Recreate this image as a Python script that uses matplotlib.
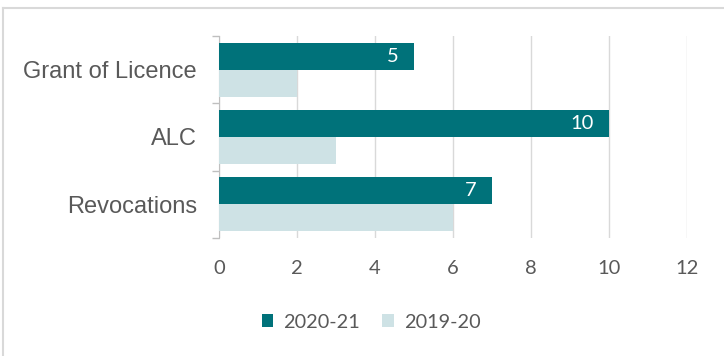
import numpy as np
import matplotlib.pyplot as plt

#Data
categories = ['Grant of Licence', 'ALC', 'Revocations']
vals_2021 = [5, 10, 7]
vals_1920 = [2, 3, 6]
series_names = ['2020-21', '2019-20']
xticks = [0, 2, 4, 6, 8, 10, 12]

dark = '#00727A'
light = '#CEE2E5'
txt = '#595959'
plt.rcParams['font.family'] = ['Lato', 'DejaVu Sans']

fig = plt.figure(figsize=(7.24, 3.56), dpi=100)
ax = fig.add_axes([219/724, 1-238/356, 468/724, 202/356])

y = np.arange(len(categories))
h = 0.4
b1 = ax.barh(y - h/2, vals_2021, height=h, color=dark, label=series_names[0], zorder=3)
b2 = ax.barh(y + h/2, vals_1920, height=h, color=light, label=series_names[1], zorder=3)

#value labels inside bar end
for rect, v in zip(b1, vals_2021):
    ax.text(rect.get_width() - 0.4, rect.get_y() + rect.get_height()/2, str(v),
            color='white', fontsize=14.5, ha='right', va='center', zorder=4)

ax.set_xlim(0, 12)
ax.set_ylim(2.5, -0.5)
ax.set_xticks(xticks)
ax.set_yticks(y)
ax.set_yticklabels(categories, family='Liberation Sans')
ax.set_yticks([-0.5, 0.5, 1.5, 2.5], minor=True)
ax.tick_params(axis='y', which='major', length=0, pad=16, labelsize=17, labelcolor=txt)
ax.tick_params(axis='y', which='minor', length=5, color='#BFBFBF', width=1)
ax.tick_params(axis='x', length=0, pad=16, labelsize=14.5, labelcolor=txt)
ax.grid(axis='x', color='#D9D9D9', lw=1, zorder=0)
for s in ['top', 'right', 'bottom']:
    ax.spines[s].set_visible(False)
ax.spines['left'].set_color('#BFBFBF')

leg = fig.legend(loc='center', bbox_to_anchor=(371/724, 1-322/356), ncol=2, frameon=False,
                 fontsize=14.3, handlelength=0.6, handleheight=0.6, handletextpad=0.5,
                 columnspacing=1.1)
for t in leg.get_texts():
    t.set_color(txt)

#outer frame
fig.add_artist(plt.Line2D([3/724, 3/724], [0, 1-8/356], color='#D9D9D9', lw=1.5))
fig.add_artist(plt.Line2D([3/724, 1], [1-8/356, 1-8/356], color='#D9D9D9', lw=1.5))

plt.savefig('out.png', dpi=100)
